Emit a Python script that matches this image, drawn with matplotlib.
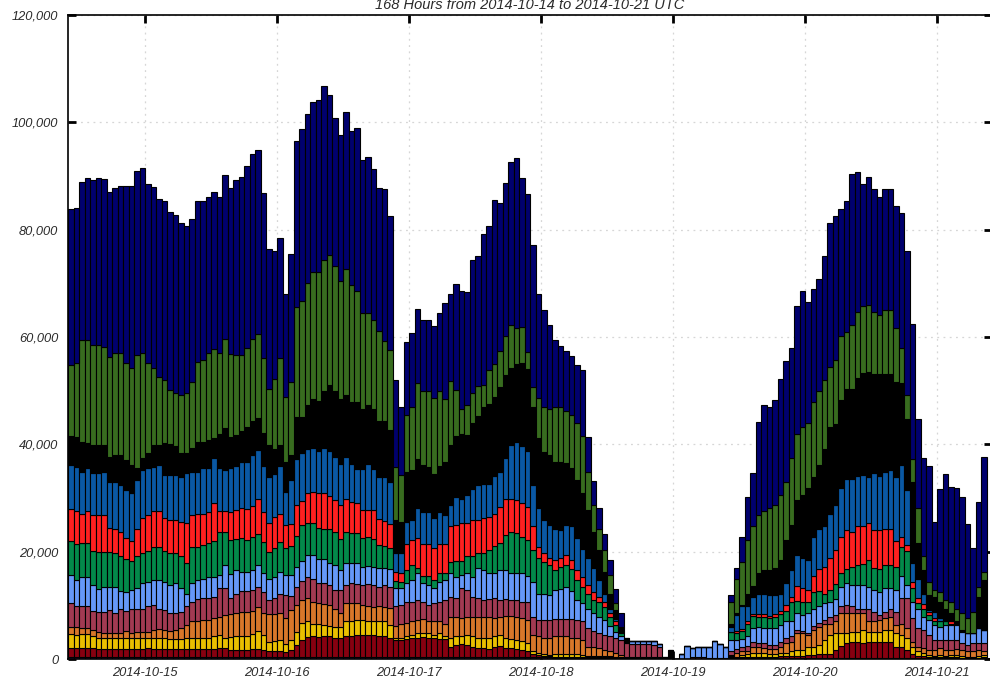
import numpy as np
import matplotlib
matplotlib.use("Agg")
import matplotlib.pyplot as plt
from matplotlib.ticker import FuncFormatter

plt.rcParams["font.family"] = ["Liberation Sans Narrow", "Liberation Sans", "DejaVu Sans"]

# one bar per hour, 2014-10-14 10:00 .. 2014-10-21 09:00 UTC
hours = np.arange(168)
day_ticks = [14, 38, 62, 86, 110, 134, 158]
day_labels = ["2014-10-15", "2014-10-16", "2014-10-17", "2014-10-18",
              "2014-10-19", "2014-10-20", "2014-10-21"]

# running top of every layer of the stack, in thousands, bottom layer first
top_purple = [
    0.3, 0.3, 0.3, 0.3, 0.4, 0.4, 0.3, 0.4, 0.3, 0.3, 0.3, 0.4, 0.4, 0.3, 0.3, 0.3, 0.3, 0.4, 0.4, 0.4, 0.4, 0.4, 0.4, 0.3, 0.3, 0.3, 0.3, 0.3, 0.3,
    0.3, 0.3, 0.3, 0.3, 0.3, 0.3, 0.3, 0.3, 0.3, 0.3, 0.3, 0.3, 0.3, 0.4, 0.4, 0.3, 0.3, 0.3, 0.3, 0.3, 0.3, 0.3, 0.3, 0.3, 0.3, 0.3, 0.3, 0.3, 0.3, 0.3,
    0.3, 0.3, 0.3, 0.3, 0.3, 0.3, 0.3, 0.3, 0.3, 0.3, 0.3, 0.3, 0.3, 0.3, 0.3, 0.3, 0.3, 0.3, 0.3, 0.3, 0.3, 0.3, 0.3, 0.3, 0.3, 0.3, 0.3, 0.3, 0.3,
    0.2, 0.2, 0.2, 0.2, 0.2, 0.2, 0.2, 0.2, 0.2, 0.2, 0.2, 0.2, 0.2,
    0.1, 0.1, 0.1, 0.1, 0.1, 0.1, 0.1, 0, 0, 0, 0, 0, 0, 0, 0, 0, 0, 0, 0,
    0.1, 0.1, 0.1, 0.1, 0.1, 0.1, 0.1, 0.1, 0.1, 0.1, 0.1, 0.1, 0.1, 0.1, 0.1, 0.1, 0.1, 0.1, 0.1, 0.1, 0.1, 0.1, 0.1, 0.1, 0.1,
    0.1, 0.1, 0.1, 0.1, 0.1, 0.1, 0.1, 0.1, 0.1, 0.1, 0.1, 0.1, 0.1, 0.1, 0.1, 0.1, 0.1, 0.1, 0.1, 0.1, 0.1, 0.1,
    0]
top_darkred = [
    2.0, 2.0, 2.1, 2.0, 2.0, 1.9, 1.9, 1.9, 1.9, 1.8, 1.8, 1.8, 1.9, 1.9, 2.0, 1.9, 1.9, 1.8, 1.8, 1.8, 1.8, 1.9, 1.9, 1.9, 1.9, 1.9, 1.9, 2.0, 2.0,
    1.7, 1.6, 1.7, 1.6, 1.8, 1.9, 1.6, 1.5, 1.4, 1.5, 1.3, 1.6, 2.6, 3.6, 4.1, 4.2, 4.1, 4.2, 4.2, 4.0, 3.9, 4.3, 4.3, 4.4, 4.5, 4.4, 4.4, 4.3, 4.3, 4.0,
    3.5, 3.6, 3.8, 3.9, 4.0, 4.1, 4.0, 3.9, 3.8, 3.8, 2.3, 2.6, 2.8, 2.6, 2.3, 2.0, 2.0, 1.9, 2.2, 2.4, 2.1, 2.0, 1.9, 1.7, 1.5, 0.9, 0.8, 0.5, 0.5,
    0.4, 0.4, 0.4, 0.4, 0.4, 0.4, 0.3, 0.3, 0.3, 0.3, 0.3, 0.3, 0.2,
    0.2, 0.1, 0.1, 0.1, 0.1, 0.1, 0.1, 0, 0, 0, 0, 0, 0, 0, 0, 0, 0, 0, 0,
    0.3, 0.3, 0.4, 0.4, 0.4, 0.4, 0.4, 0.4, 0.4, 0.5, 0.5, 0.6, 0.6, 0.6, 0.7, 0.8, 0.9, 1.0, 1.0, 1.7, 2.5, 3.0, 3.1, 3.1, 3.0,
    3.2, 3.2, 3.2, 3.2, 3.2, 2.3, 2.3, 1.7, 0.9, 0.6, 0.5, 0.4, 0.3, 0.3, 0.3, 0.3, 0.3, 0.2, 0.2, 0.2, 0.2, 0.3,
    0]
top_yellow = [
    4.7, 4.5, 4.7, 4.7, 4.3, 4.0, 4.0, 3.9, 3.9, 3.9, 3.9, 3.9, 3.9, 3.9, 3.9, 4.0, 4.0, 3.9, 3.7, 3.7, 3.7, 3.9, 4.0, 4.0, 4.0, 4.0, 4.3, 4.5, 4.0,
    4.1, 4.2, 4.2, 4.3, 4.7, 5.2, 4.4, 3.2, 3.3, 3.6, 2.8, 3.6, 5.0, 6.8, 7.0, 6.6, 6.5, 6.4, 6.2, 6.0, 6.0, 7.1, 7.1, 7.2, 7.2, 7.1, 7.1, 7.0, 7.0, 6.4,
    3.9, 3.9, 4.3, 4.4, 4.9, 4.9, 4.8, 4.5, 4.8, 4.3, 4.0, 4.3, 4.3, 4.4, 4.2, 4.0, 3.9, 3.9, 4.3, 4.5, 4.0, 3.8, 3.6, 3.3, 3.0, 1.4, 1.1, 0.9, 0.8,
    0.9, 0.9, 0.9, 0.9, 0.9, 0.8, 0.6, 0.6, 0.6, 0.5, 0.5, 0.4, 0.3,
    0.2, 0.2, 0.2, 0.2, 0.2, 0.2, 0.2, 0, 0, 0, 0, 0, 0, 0, 0, 0, 0, 0, 0,
    0.5, 0.4, 0.7, 0.9, 1.2, 1.1, 1.1, 0.9, 0.9, 1.2, 1.2, 1.4, 1.7, 1.7, 2.2, 2.3, 2.6, 3.5, 4.5, 4.8, 4.8, 4.8, 5.1, 5.1, 5.4,
    5.1, 5.1, 5.1, 5.4, 5.4, 4.8, 4.5, 3.9, 2.3, 1.4, 1.1, 0.7, 0.6, 0.7, 0.6, 0.7, 0.7, 0.5, 0.4, 0.4, 0.5, 0.7,
    0]
top_orange = [
    6.0, 5.9, 5.7, 5.7, 5.4, 5.1, 4.9, 4.9, 4.9, 4.9, 5.3, 4.9, 5.1, 5.1, 5.1, 5.4, 5.5, 5.4, 5.3, 5.4, 5.7, 6.3, 7.0, 7.0, 7.3, 7.3, 7.6, 7.9, 8.2,
    8.3, 8.6, 8.8, 8.8, 9.0, 9.7, 8.6, 8.3, 8.3, 8.6, 7.6, 9.1, 10.0, 11.0, 11.4, 10.7, 10.4, 10.2, 10.0, 9.3, 8.6, 10.4, 10.4, 10.4, 10.0, 9.8, 9.7, 9.8, 9.7, 9.5,
    6.1, 6.6, 6.8, 7.0, 7.3, 7.4, 7.0, 7.0, 7.0, 6.6, 7.9, 7.9, 7.6, 7.8, 7.9, 7.8, 7.8, 7.9, 7.6, 7.9, 8.0, 8.0, 7.8, 7.6, 7.3, 4.5, 4.2, 3.9, 4.0,
    4.2, 4.2, 4.2, 4.0, 3.9, 3.5, 2.3, 2.3, 2.0, 1.7, 1.4, 1.1, 0.7,
    0.3, 0.3, 0.3, 0.3, 0.3, 0.3, 0.3, 0, 0, 0, 0, 0, 0, 0, 0, 0, 0, 0, 0,
    0.8, 1.1, 1.4, 1.5, 2.3, 2.2, 2.0, 1.8, 1.8, 2.2, 2.9, 3.2, 4.8, 4.8, 4.5, 5.4, 6.0, 6.6, 6.6, 7.0, 8.5, 8.6, 8.5, 8.5, 8.5,
    7.0, 7.0, 7.3, 7.6, 7.9, 6.3, 6.6, 5.7, 3.2, 2.3, 2.0, 1.7, 1.7, 2.0, 1.7, 1.7, 1.8, 1.6, 1.4, 1.4, 1.7, 1.4,
    0]
top_maroon = [
    10.4, 9.9, 9.9, 9.9, 9.0, 8.8, 8.8, 9.1, 8.5, 9.3, 9.0, 9.3, 9.4, 9.4, 9.9, 10.1, 9.4, 9.1, 8.6, 8.5, 8.8, 9.8, 10.7, 11.1, 11.3, 11.3, 11.6, 13.2, 13.2,
    11.4, 12.1, 12.6, 12.6, 12.8, 13.5, 12.4, 11.0, 11.4, 12.1, 11.9, 11.7, 13.5, 14.6, 15.2, 14.9, 14.2, 14.2, 13.8, 12.8, 12.8, 13.7, 14.2, 14.0, 13.7, 14.0, 13.8, 13.5, 13.7, 13.5,
    9.8, 10.1, 10.7, 10.7, 11.0, 10.7, 10.1, 10.4, 10.7, 11.0, 11.6, 11.3, 13.2, 12.9, 11.5, 11.3, 11.0, 11.1, 11.3, 11.0, 11.1, 11.0, 11.0, 10.7, 10.7, 7.9, 7.3, 7.3, 7.2,
    7.4, 7.4, 7.4, 7.4, 7.3, 7.0, 5.7, 5.3, 4.8, 4.5, 4.2, 3.9, 3.6,
    3.0, 2.8, 2.8, 2.8, 2.8, 2.6, 2.2, 0, 0, 0, 0, 0, 0.4, 0.4, 0.3, 0.2, 0.2, 0.1, 0.1,
    1.4, 1.8, 2.3, 2.4, 3.2, 2.9, 2.9, 2.6, 2.6, 3.2, 3.9, 4.2, 5.4, 5.3, 4.9, 6.1, 6.8, 7.3, 7.9, 8.2, 9.8, 10.1, 9.8, 9.4, 9.4,
    9.4, 8.8, 8.2, 8.8, 9.4, 8.8, 11.3, 11.3, 7.6, 5.7, 5.4, 4.5, 3.5, 3.5, 3.5, 3.5, 3.5, 2.9, 2.6, 2.9, 2.9, 2.9,
    0]
top_lightblue = [
    15.7, 14.8, 15.2, 15.2, 13.8, 13.0, 13.5, 13.5, 13.5, 12.7, 12.5, 12.9, 13.2, 14.1, 14.4, 14.8, 14.8, 14.4, 13.8, 14.1, 13.2, 12.2, 14.1, 14.8, 15.0, 15.2, 15.2, 15.7, 17.5,
    15.9, 16.5, 16.2, 16.2, 16.6, 17.6, 16.1, 14.9, 15.3, 16.2, 15.6, 15.6, 17.1, 18.3, 19.3, 19.3, 18.6, 18.6, 17.9, 17.6, 16.6, 17.9, 17.8, 17.8, 17.1, 17.4, 17.1, 16.9, 16.9, 16.7,
    13.2, 13.2, 14.1, 14.7, 16.0, 14.1, 13.8, 13.2, 14.4, 14.7, 16.0, 15.3, 15.7, 16.0, 15.3, 16.9, 16.6, 16.0, 16.0, 16.6, 16.6, 16.1, 16.1, 16.0, 15.5, 14.4, 12.2, 12.2, 12.0,
    12.9, 13.0, 13.5, 12.7, 11.0, 10.4, 9.4, 8.5, 7.8, 7.3, 6.1, 5.1, 4.2,
    3.2, 3.35, 3.35, 3.35, 3.35, 3.35, 2.8, 0, 0, 0, 1.0, 2.5, 2.0, 2.2, 2.2, 2.3, 3.4, 2.8, 2.3,
    3.5, 3.5, 3.7, 4.2, 5.7, 6.0, 5.7, 5.7, 5.7, 6.3, 7.0, 7.0, 8.6, 8.2, 8.5, 9.4, 9.8, 10.4, 10.7, 11.1, 13.5, 14.2, 13.8, 13.8, 13.8,
    13.5, 12.9, 12.5, 13.2, 13.2, 12.9, 15.5, 13.8, 10.7, 9.4, 7.9, 7.3, 6.3, 6.0, 6.3, 6.3, 6.3, 5.1, 4.8, 4.8, 5.7, 5.4,
    0]
top_green = [
    21.9, 21.4, 21.7, 21.6, 20.2, 20.0, 20.0, 20.0, 19.8, 19.1, 18.6, 18.3, 19.2, 19.7, 20.2, 20.9, 20.8, 20.2, 19.7, 19.8, 19.1, 17.9, 20.8, 20.8, 21.2, 21.6, 21.9, 23.7, 23.7,
    22.1, 22.3, 22.5, 22.1, 22.7, 23.2, 21.8, 20.0, 20.6, 21.8, 20.7, 21.1, 23.0, 24.9, 25.4, 25.4, 24.5, 24.3, 24.2, 23.6, 22.3, 23.6, 23.5, 23.4, 22.5, 22.8, 22.3, 21.3, 21.1, 20.7,
    14.6, 14.4, 16.6, 17.5, 16.9, 15.5, 15.5, 14.7, 16.0, 16.0, 18.1, 18.3, 18.3, 19.2, 19.2, 19.7, 19.7, 20.3, 21.1, 21.7, 23.1, 23.7, 23.5, 22.8, 22.2, 20.3, 18.8, 18.1, 17.5,
    16.5, 17.1, 17.5, 16.7, 14.7, 13.5, 12.2, 11.0, 10.7, 9.6, 7.8, 6.3, 4.8,
    3.3, 3.35, 3.35, 3.35, 3.35, 3.35, 2.8, 0, 0, 0, 1.0, 2.5, 2.0, 2.2, 2.2, 2.3, 3.4, 2.8, 2.3,
    5.1, 4.9, 5.2, 6.5, 8.0, 7.9, 7.9, 7.6, 7.8, 8.4, 9.0, 10.7, 10.9, 10.7, 10.7, 12.4, 12.7, 12.2, 12.9, 14.0, 16.0, 16.7, 17.1, 17.5, 17.7,
    18.4, 16.9, 16.7, 17.5, 17.5, 17.2, 20.9, 20.2, 13.2, 10.4, 9.4, 8.2, 7.0, 7.0, 7.0, 6.6, 6.6, 5.3, 4.9, 4.9, 5.7, 5.4,
    0]
top_red = [
    27.9, 27.6, 27.1, 27.5, 26.8, 26.8, 26.8, 24.5, 24.3, 23.7, 22.5, 21.9, 24.3, 26.2, 26.8, 27.5, 27.5, 26.2, 25.9, 25.9, 25.6, 25.3, 26.8, 27.0, 27.0, 27.3, 29.0, 27.5, 27.5,
    27.3, 27.7, 28.2, 28.0, 28.5, 29.9, 27.3, 25.4, 26.4, 27.1, 24.9, 25.2, 28.7, 29.4, 31.0, 31.2, 31.0, 31.0, 30.4, 29.6, 28.7, 29.9, 29.2, 29.0, 27.8, 27.8, 27.7, 26.0, 25.7, 25.2,
    16.3, 16.0, 21.4, 22.2, 22.5, 21.4, 21.4, 20.6, 21.4, 21.5, 24.7, 25.0, 25.3, 25.3, 25.9, 25.9, 26.2, 26.5, 27.1, 28.4, 29.9, 29.9, 29.6, 29.0, 28.4, 24.7, 20.9, 19.7, 18.8,
    18.4, 18.8, 19.4, 18.4, 16.6, 15.3, 13.8, 12.5, 11.6, 10.7, 8.5, 7.1, 5.1,
    3.3, 3.35, 3.35, 3.35, 3.35, 3.35, 2.8, 0, 0, 0, 1.0, 2.5, 2.0, 2.2, 2.2, 2.3, 3.4, 2.8, 2.3,
    5.1, 5.3, 5.5, 7.0, 8.4, 8.4, 8.4, 8.0, 8.4, 9.0, 10.1, 11.6, 13.6, 13.2, 12.9, 15.5, 16.7, 17.1, 18.8, 20.4, 22.8, 24.0, 23.7, 24.7, 24.8,
    25.4, 24.0, 24.0, 24.2, 24.2, 21.9, 22.8, 21.2, 14.4, 11.3, 10.2, 8.8, 7.6, 7.0, 7.1, 7.0, 6.6, 5.3, 4.9, 4.9, 5.7, 5.4,
    0]
top_blue = [
    36.1, 35.8, 34.9, 35.5, 34.6, 34.7, 34.9, 33.0, 32.9, 32.4, 31.5, 30.9, 33.4, 35.2, 35.5, 35.8, 36.1, 34.3, 34.3, 34.3, 33.9, 34.7, 34.9, 34.9, 35.5, 35.5, 37.4, 35.5, 35.2,
    35.6, 36.0, 36.7, 36.8, 38.0, 38.9, 36.0, 33.9, 34.4, 35.9, 31.2, 33.3, 37.2, 38.4, 39.1, 39.4, 38.7, 39.3, 38.7, 37.7, 36.3, 37.7, 36.3, 35.4, 35.4, 36.3, 35.4, 34.0, 34.0, 33.0,
    19.7, 19.7, 25.6, 25.9, 28.1, 27.3, 27.3, 26.2, 27.3, 26.8, 28.7, 30.1, 29.9, 30.5, 31.6, 32.4, 32.7, 32.7, 34.1, 34.9, 37.4, 39.8, 40.5, 39.6, 38.8, 32.4, 28.1, 25.9, 25.0,
    24.3, 24.0, 25.0, 24.7, 22.5, 20.5, 18.8, 16.9, 14.7, 12.2, 9.4, 7.4, 5.3,
    3.4, 3.35, 3.35, 3.35, 3.35, 3.35, 2.8, 0, 0, 0, 1.0, 2.5, 2.0, 2.2, 2.2, 2.3, 3.4, 2.8, 2.3,
    6.0, 8.2, 9.8, 9.9, 11.5, 12.2, 12.2, 11.9, 11.9, 12.2, 14.1, 16.6, 19.4, 18.8, 18.4, 22.7, 24.2, 24.7, 27.0, 28.7, 31.8, 33.5, 33.5, 34.1, 34.3,
    34.0, 34.6, 34.1, 34.9, 35.2, 34.0, 36.1, 31.5, 17.8, 15.0, 12.2, 9.1, 8.8, 7.6, 7.3, 7.1, 6.6, 5.3, 4.9, 4.9, 5.7, 5.4,
    0]
top_black = [
    41.6, 41.4, 40.5, 40.2, 39.9, 39.9, 39.9, 37.7, 38.0, 38.0, 37.1, 36.1, 35.5, 37.4, 38.3, 39.9, 39.9, 40.2, 40.1, 39.6, 38.3, 38.3, 39.3, 40.5, 40.5, 40.8, 41.1, 42.0, 43.0,
    41.3, 41.8, 42.5, 43.2, 44.3, 44.9, 42.2, 39.8, 39.1, 39.8, 36.7, 38.0, 45.1, 45.1, 47.4, 48.4, 48.0, 49.9, 51.0, 49.9, 48.4, 49.2, 47.8, 47.8, 46.5, 47.4, 46.5, 44.3, 44.3, 42.7,
    25.9, 25.6, 34.9, 35.2, 37.2, 36.1, 35.8, 34.5, 35.9, 36.7, 39.9, 41.5, 41.9, 41.7, 43.9, 45.2, 47.0, 47.6, 48.9, 50.7, 52.9, 54.2, 55.0, 55.2, 54.0, 47.0, 41.2, 38.5, 38.0,
    36.8, 36.8, 36.5, 35.5, 33.4, 31.0, 27.8, 23.7, 20.3, 16.3, 12.2, 9.1, 5.7,
    4.0, 3.35, 3.35, 3.35, 3.35, 3.35, 2.8, 0.3, 1.7, 0, 1.0, 2.5, 2.0, 2.2, 2.2, 2.3, 3.4, 2.8, 2.3,
    6.5, 8.5, 10.1, 12.2, 13.6, 16.0, 16.6, 16.5, 16.9, 18.4, 22.2, 25.0, 29.6, 30.6, 31.8, 34.0, 36.1, 39.1, 43.3, 43.8, 48.3, 50.4, 50.4, 52.3, 53.2,
    53.5, 53.1, 53.1, 53.1, 53.1, 51.7, 51.5, 44.8, 33.0, 21.6, 16.6, 11.9, 11.6, 10.7, 9.4, 8.5, 7.0, 5.4, 4.9, 4.9, 11.6, 14.7,
    0]
top_olive = [
    54.8, 55.2, 59.4, 59.4, 58.5, 58.5, 58.2, 56.3, 57.1, 57.0, 55.1, 54.2, 56.6, 57.1, 55.2, 54.2, 52.6, 52.0, 50.1, 49.5, 49.2, 49.5, 51.7, 55.4, 55.7, 57.0, 57.7, 57.0, 59.6,
    56.8, 56.7, 56.7, 57.9, 59.6, 60.5, 56.0, 50.3, 52.2, 56.0, 48.9, 51.7, 65.5, 66.7, 70.0, 72.1, 72.1, 74.3, 75.2, 73.3, 70.4, 72.6, 69.6, 68.6, 64.4, 64.4, 63.1, 61.2, 59.3, 57.5,
    35.8, 34.3, 45.5, 47.0, 51.5, 49.9, 49.9, 48.6, 49.9, 48.4, 51.8, 50.2, 46.5, 47.3, 49.5, 50.9, 51.1, 53.8, 55.0, 57.4, 60.2, 62.2, 61.6, 61.9, 57.2, 50.7, 48.6, 47.0, 46.5,
    47.0, 46.9, 46.3, 45.5, 43.9, 41.5, 34.9, 28.7, 24.3, 20.3, 15.7, 10.5, 5.9,
    4.0, 3.35, 3.35, 3.35, 3.35, 3.35, 2.8, 0.3, 1.7, 0, 1.0, 2.5, 2.0, 2.2, 2.2, 2.3, 3.4, 2.8, 2.3,
    10.7, 15.0, 18.1, 22.2, 24.7, 26.8, 27.6, 28.1, 28.7, 30.6, 33.0, 37.4, 42.0, 43.3, 43.9, 47.8, 50.0, 52.0, 54.5, 55.8, 60.2, 61.0, 62.2, 64.7, 65.7,
    66.0, 64.7, 64.1, 65.0, 65.0, 61.6, 57.9, 49.2, 37.2, 28.1, 19.1, 14.4, 12.9, 12.5, 11.0, 10.7, 9.4, 8.5, 7.6, 8.8, 13.4, 16.3,
    0]
top_navy = [
    83.8, 84.1, 88.9, 89.6, 89.2, 89.6, 89.4, 87.1, 87.8, 88.1, 88.1, 88.1, 91.0, 91.5, 88.6, 87.9, 85.7, 85.3, 83.2, 82.7, 81.3, 80.7, 82.0, 85.4, 85.4, 86.0, 87.0, 86.0, 90.2,
    87.8, 89.3, 89.9, 91.8, 94.1, 94.9, 86.8, 76.4, 76.1, 78.5, 68.1, 75.5, 96.5, 98.7, 101.5, 103.7, 104.1, 106.8, 105.0, 100.8, 97.7, 102.0, 98.3, 99.0, 93.0, 93.6, 91.3, 87.7, 87.5, 82.6,
    52.0, 47.0, 59.0, 60.7, 65.2, 63.2, 63.2, 62.1, 64.4, 66.4, 68.1, 69.8, 68.6, 68.4, 74.3, 75.1, 79.1, 80.7, 85.6, 85.0, 88.7, 92.7, 93.3, 89.6, 86.6, 77.1, 68.0, 65.0, 62.2,
    59.5, 58.3, 57.3, 56.4, 54.8, 53.8, 41.4, 33.2, 28.1, 23.3, 18.4, 13.0, 8.5,
    4.0, 3.35, 3.35, 3.35, 3.35, 3.35, 2.8, 0.3, 1.7, 0, 1.0, 2.5, 2.0, 2.2, 2.2, 2.3, 3.4, 2.8, 2.3,
    11.9, 16.9, 22.7, 30.2, 34.6, 44.2, 47.3, 47.0, 48.3, 52.1, 55.6, 57.9, 65.8, 68.6, 66.6, 68.9, 70.9, 75.1, 81.3, 82.5, 83.8, 85.3, 90.4, 90.8, 88.5,
    89.8, 87.6, 86.1, 87.6, 87.6, 84.5, 83.1, 76.0, 62.4, 44.7, 37.4, 35.9, 25.5, 31.6, 34.5, 32.1, 31.8, 30.2, 25.2, 20.7, 29.3, 37.6,
    0]

layers = [
    (top_purple, "#4b127a"),
    (top_darkred, "#870010"),
    (top_yellow, "#e9bf00"),
    (top_orange, "#d8772a"),
    (top_maroon, "#a23a52"),
    (top_lightblue, "#6598f8"),
    (top_green, "#03894a"),
    (top_red, "#fe2020"),
    (top_blue, "#0a58a4"),
    (top_black, "#000000"),
    (top_olive, "#386c1f"),
    (top_navy, "#00006e"),
]
for tops, c in layers:
    assert len(tops) == 168, (c, len(tops))

fig = plt.figure(figsize=(9.9, 6.82), dpi=100)
ax = fig.add_axes([68 / 990, 23 / 682, 924 / 990, 644 / 682])

bottom = np.zeros(168)
for tops, color in layers:
    tops = np.array(tops) * 1000
    height = np.clip(tops - bottom, 0, None)
    ax.bar(hours, height, width=1.0, bottom=bottom, align="edge",
           color=color, edgecolor="black", linewidth=0.8)
    bottom = bottom + height

ax.set_xlim(0, 168)
ax.set_ylim(0, 120000)
ax.set_xticks(day_ticks)
ax.set_xticklabels(day_labels)
ax.set_yticks(range(0, 120001, 20000))
ax.yaxis.set_major_formatter(FuncFormatter(lambda v, p: "{:,}".format(int(v))))

ax.grid(True, color="#d6d6d6", linestyle=(0, (1.5, 3.5)), linewidth=0.9)
ax.set_axisbelow(True)
ax.tick_params(direction="in", length=5.5, width=2, top=True, right=True,
               labelcolor="#2a2a2a", labelsize=9.3)
ax.tick_params(axis="y", pad=7)
ax.tick_params(axis="x", pad=6)
for lab in ax.get_xticklabels() + ax.get_yticklabels():
    lab.set_fontstyle("italic")
for s in ax.spines.values():
    s.set_linewidth(1.2)

ax.set_title("168 Hours from 2014-10-14 to 2014-10-21 UTC", fontsize=10.5,
             fontstyle="italic", color="#2a2a2a", pad=4)

fig.savefig("out.png", dpi=100)
